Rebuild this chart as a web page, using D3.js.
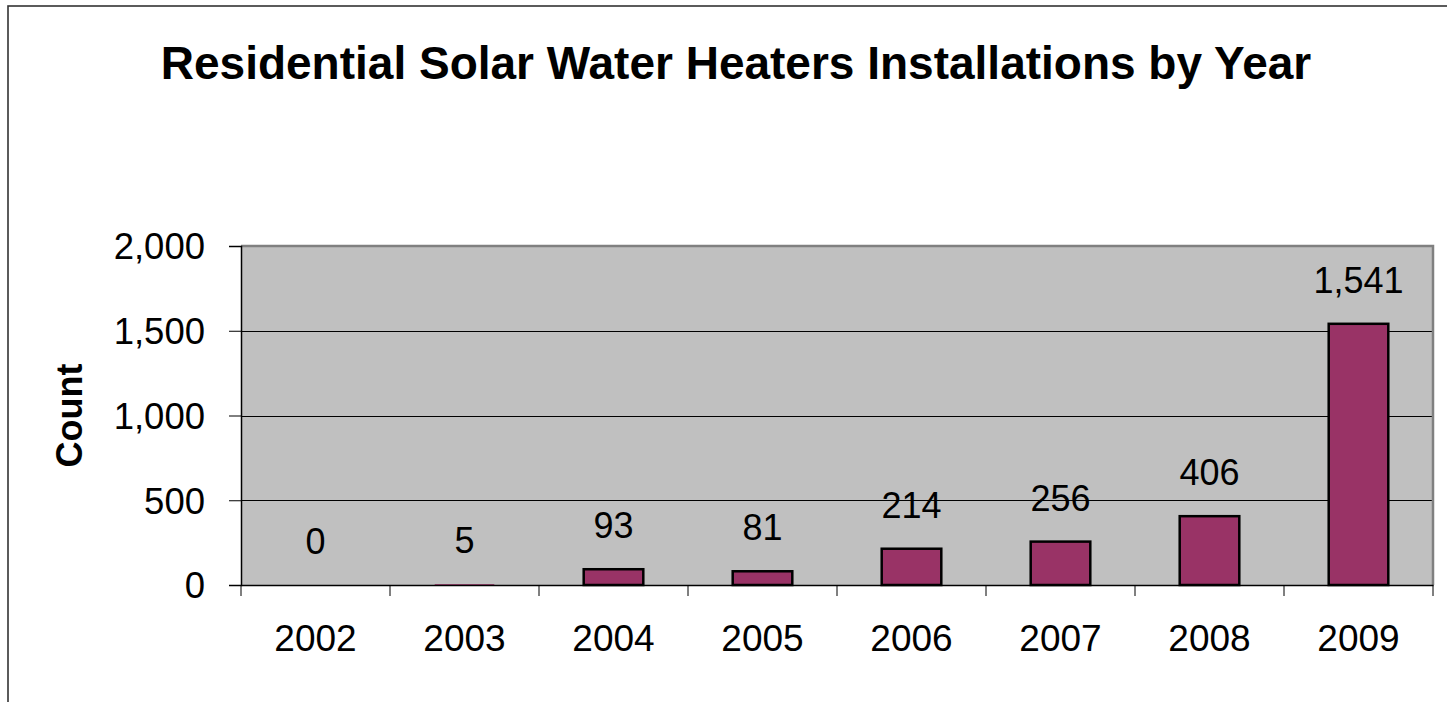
<!DOCTYPE html>
<html>
<head>
<meta charset="utf-8">
<script src="https://cdn.jsdelivr.net/npm/d3@7/dist/d3.min.js"></script>
<style>
  html, body { margin: 0; padding: 0; background: #fff; }
  svg { display: block; }
  text { font-family: "Liberation Sans", Arial, sans-serif; fill: #000; }
</style>
</head>
<body>
<svg id="chart" width="1447" height="702"></svg>
<script>
const title = "Residential Solar Water Heaters Installations by Year";
const yAxisTitle = "Count";
const years = ["2002", "2003", "2004", "2005", "2006", "2007", "2008", "2009"];
const counts = [0, 5, 93, 81, 214, 256, 406, 1541];
const yTicks = [0, 500, 1000, 1500, 2000];

const svg = d3.select("#chart");
const W = 1447, H = 702;
const plot = { left: 241, top: 246, right: 1433, bottom: 585 };

// outer chart border
svg.append("rect")
  .attr("x", 8).attr("y", 6)
  .attr("width", W + 50).attr("height", H + 50)
  .attr("fill", "#fff")
  .attr("stroke", "#333").attr("stroke-width", 1.6);

const x = d3.scaleBand().domain(years).range([plot.left, plot.right]).paddingInner(0.6).paddingOuter(0.3);
const xb = d3.scaleBand().domain(years).range([plot.left, plot.right]);
const y = d3.scaleLinear().domain([0, 2000]).range([plot.bottom, plot.top]);

// plot area background
svg.append("rect")
  .attr("x", plot.left).attr("y", plot.top)
  .attr("width", plot.right - plot.left).attr("height", plot.bottom - plot.top)
  .attr("fill", "#c0c0c0");

// gridlines
svg.append("g").selectAll("line")
  .data(yTicks.filter(d => d > 0 && d < 2000))
  .join("line")
  .attr("x1", plot.left).attr("x2", plot.right)
  .attr("y1", d => Math.round(y(d)) + 0.5).attr("y2", d => Math.round(y(d)) + 0.5)
  .attr("stroke", "#000").attr("stroke-width", 1);

// plot border top & right (gray)
svg.append("path")
  .attr("d", `M${plot.left},${plot.top} H${plot.right} V${plot.bottom}`)
  .attr("fill", "none").attr("stroke", "#808080").attr("stroke-width", 2.5);

// bars
svg.append("g").selectAll("rect")
  .data(years.map((yr, i) => ({ yr, v: counts[i] })))
  .join("rect")
  .attr("x", d => x(d.yr))
  .attr("width", x.bandwidth())
  .attr("y", d => y(d.v))
  .attr("height", d => y(0) - y(d.v))
  .attr("fill", "#993366")
  .attr("stroke", "#000")
  .attr("stroke-width", d => (y(0) - y(d.v)) < 2 ? 0 : 2.5);

// value labels
svg.append("g").selectAll("text")
  .data(years.map((yr, i) => ({ yr, v: counts[i] })))
  .join("text")
  .attr("x", d => xb(d.yr) + xb.bandwidth() / 2)
  .attr("y", d => y(d.v) - 31)
  .attr("text-anchor", "middle")
  .style("font-size", "36px")
  .text(d => d3.format(",")(d.v));

// y axis
const yAxis = d3.axisLeft(y).tickValues(yTicks).tickFormat(d3.format(",")).tickSize(12).tickPadding(24);
const gy = svg.append("g").attr("transform", `translate(${plot.left},0)`).call(yAxis);
gy.select(".domain").attr("stroke", "#000").attr("stroke-width", 1.5);
gy.selectAll(".tick line").attr("stroke", "#000");
gy.selectAll(".tick text").style("font-size", "36.5px").attr("font-family", null).attr("dy", "0.35em");

// x axis
const xAxis = d3.axisBottom(xb).tickSize(0).tickPadding(40);
const gx = svg.append("g").attr("transform", `translate(0,${plot.bottom})`).call(xAxis);
gx.select(".domain").attr("stroke", "#000").attr("stroke-width", 1.5);
gx.selectAll(".tick text").style("font-size", "37px").attr("font-family", null);
// boundary ticks between categories
gx.append("g").selectAll("line")
  .data(years.slice(1).concat(["end"]))
  .join("line")
  .attr("x1", d => d === "end" ? plot.right : xb(d))
  .attr("x2", d => d === "end" ? plot.right : xb(d))
  .attr("y1", 0).attr("y2", 11)
  .attr("stroke", "#000").attr("stroke-width", 1);
gx.append("line").attr("x1", plot.left).attr("x2", plot.left).attr("y1", 0).attr("y2", 11).attr("stroke", "#000");

// y axis title
svg.append("text")
  .attr("transform", `translate(82,${(plot.top + plot.bottom) / 2}) rotate(-90)`)
  .attr("text-anchor", "middle")
  .style("font-size", "36px").style("font-weight", "bold")
  .text(yAxisTitle);

// title
svg.append("text")
  .attr("x", 736).attr("y", 79)
  .attr("text-anchor", "middle")
  .style("font-size", "46px").style("font-weight", "bold")
  .text(title);
</script>
</body>
</html>
